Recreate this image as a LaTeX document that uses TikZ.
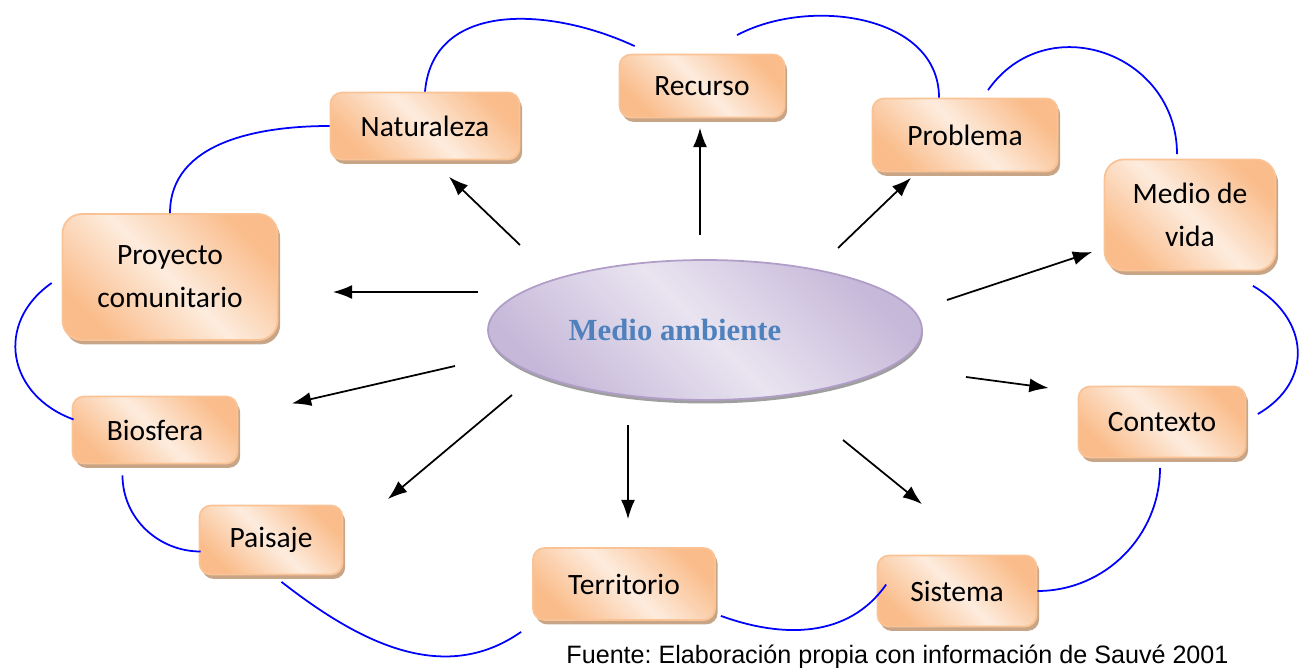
\documentclass[tikz,border=0pt]{standalone}
\usepackage{fontspec}
\setmainfont{Carlito}
\newfontfamily\titlefont{Liberation Serif}
\newfontfamily\notefont{Liberation Sans}
\usetikzlibrary{shapes.geometric,shadows,arrows.meta}
\definecolor{boxdark}{RGB}{250,188,138}
\definecolor{boxlight}{RGB}{253,236,222}
\definecolor{boxline}{RGB}{250,195,150}
\definecolor{boxshadow}{RGB}{200,165,135}
\definecolor{elldark}{RGB}{198,184,217}
\definecolor{elllight}{RGB}{233,228,240}
\definecolor{ellline}{RGB}{176,158,200}
\definecolor{titleblue}{RGB}{79,129,189}

\begin{document}
\frenchspacing
\begin{tikzpicture}[x=0.02cm,y=0.02cm,
box/.style={draw=boxline, line width=1pt, rounded corners=6.5pt,
    top color=boxdark, bottom color=boxdark, middle color=boxlight, shading angle=-45,
    drop shadow={shadow xshift=1.5pt, shadow yshift=-2.5pt, fill=boxshadow, opacity=1},
    font=\fontsize{16.8}{24.5}\selectfont, align=center},
bigbox/.style={box, rounded corners=11pt},
ambiente/.style={ellipse, draw=ellline, line width=1pt,
    top color=elldark, bottom color=elldark, middle color=elllight, shading angle=-45,
    drop shadow={shadow xshift=0.5pt, shadow yshift=-2pt, fill=gray!75, opacity=1},
    minimum width=8.68cm, minimum height=2.8cm},
link/.style={blue, line width=1pt},
arr/.style={-{Latex[length=11pt,width=8pt]}, line width=1pt}]
\useasboundingbox (0,0) rectangle (1307,-668);

% centre
\node[ambiente, label={[font=\titlefont\bfseries\fontsize{17.5}{20}\selectfont, text=titleblue, xshift=-0.6cm]center:Medio ambiente}] (amb) at (705,-330) {};

% boxes
\node[box, minimum width=3.78cm, minimum height=1.34cm] (nat) at (425,-126) {Naturaleza};
\node[box, minimum width=3.3cm, minimum height=1.26cm] (rec) at (702,-86) {Recurso};
\node[box, minimum width=3.7cm, minimum height=1.46cm] (prob) at (965,-135) {Problema};
\node[bigbox, minimum width=3.42cm, minimum height=2.22cm] (mvida) at (1190,-215) {Medio de\\vida};
\node[bigbox, minimum width=4.3cm, minimum height=2.52cm] (proy) at (170,-277) {Proyecto\\comunitario};
\node[box, minimum width=3.3cm, minimum height=1.34cm] (bios) at (155,-430) {Biosfera};
\node[box, minimum width=2.86cm, minimum height=1.38cm] (pais) at (271,-540) {Paisaje};
\node[box, minimum width=3.64cm, minimum height=1.44cm] (terr) at (624,-584) {Territorio};
\node[box, minimum width=3.18cm, minimum height=1.42cm] (sist) at (957,-591) {Sistema};
\node[box, minimum width=3.34cm, minimum height=1.42cm] (cont) at (1162,-422) {Contexto};

% arrows out of the centre
\draw[arr] ([shift={(-185,85)}]amb.center) -- ([shift={(24,-16.5)}]nat.south);
\draw[arr] ([shift={(-5,95)}]amb.center) -- ([shift={(-2,-9.5)}]rec.south);
\draw[arr] ([shift={(133,82)}]amb.center) -- ([shift={(-54,-5.5)}]prob.south);
\draw[arr] ([shift={(242,30)}]amb.center) -- ([shift={(-11.5,-37)}]mvida.west);
\draw[arr] ([shift={(261,-47)}]amb.center) -- ([shift={(-29,34)}]cont.west);
\draw[arr] ([shift={(138,-110)}]amb.center) -- ([shift={(-35,50.5)}]sist.north);
\draw[arr] ([shift={(-77,-95)}]amb.center) -- ([shift={(4,28)}]terr.north);
\draw[arr] ([shift={(-193,-65)}]amb.center) -- ([shift={(44.5,5.5)}]pais.north east);
\draw[arr] ([shift={(-250,-36)}]amb.center) -- ([shift={(53.5,26.5)}]bios.east);
\draw[arr] ([shift={(-227,38)}]amb.center) -- ([shift={(54.5,-15)}]proy.east);

% blue ring
\draw[link] (nat.west) to[out=180,in=90] (proy.north);
\draw[link] (nat.north) to[out=85,in=155,looseness=1.1] ([shift={(16,7.5)}]rec.north west);
\draw[link] ([shift={(35,18.5)}]rec.north) to[out=28,in=90] ([shift={(-26,0)}]prob.north);
\draw[link] ([shift={(23,7.5)}]prob.north) to[out=55,in=90,looseness=1.3] ([shift={(-13,4.5)}]mvida.north);
\draw[link] ([shift={(-23.5,-14.5)}]mvida.south east) to[out=-30,in=30,looseness=1.3] ([shift={(11.5,8)}]cont.east);
\draw[link] ([shift={(-2,-9.5)}]cont.south) to[out=-90,in=0] (sist.east);
\draw[link] ([shift={(9.5,6.5)}]sist.west) to[out=-125,in=-20] ([shift={(5,5)}]terr.south east);
\draw[link] ([shift={(10.5,-6.5)}]pais.south) to[out=-38,in=-145] ([shift={(-11,-11)}]terr.south west);
\draw[link] ([shift={(-10,-6)}]proy.west) to[out=-145,in=160,looseness=1.3] ([shift={(2,10.5)}]bios.west);
\draw[link] ([shift={(-32.5,-11)}]bios.south) to[out=-90,in=180] ([shift={(2,-11.5)}]pais.west);

\node[font=\notefont\fontsize{14.3}{17}\selectfont, anchor=base] (src) at (897.5,-663) {Fuente: Elaboración propia con información de Sauvé 2001};
\end{tikzpicture}
\end{document}
